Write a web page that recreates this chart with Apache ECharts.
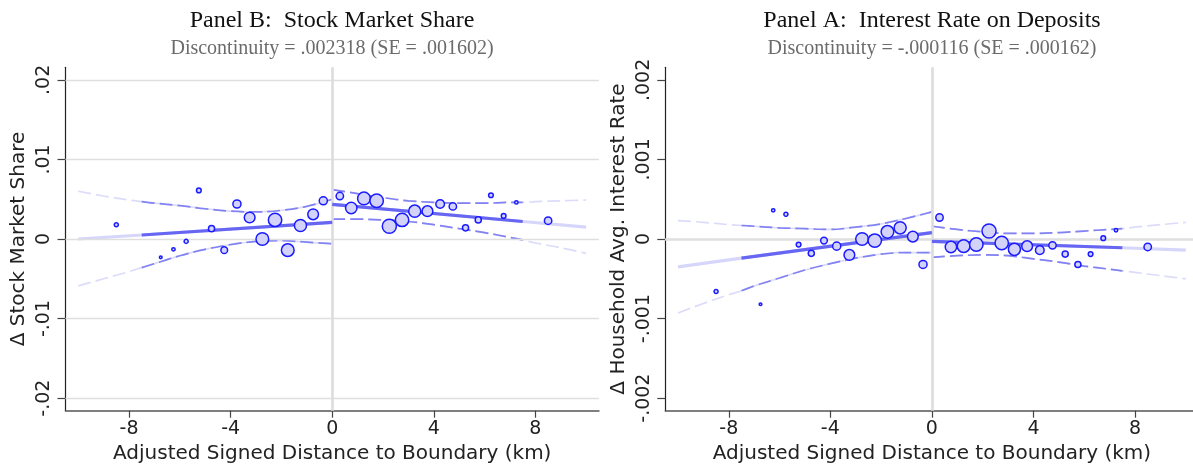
<!DOCTYPE html>
<html>
<head>
<meta charset="utf-8">
<script src="https://cdn.jsdelivr.net/npm/echarts@6/dist/echarts.min.js"></script>
<style>
  html, body { margin: 0; padding: 0; background: #fff; }
  #chart { width: 1193px; height: 464px; }
</style>
</head>
<body>
<div id="chart"></div>
<script>
// ---- Binned data: distance to boundary (km), households per bin ----
const distLeft  = [-8.5, -6.75, -6.25, -5.75, -5.25, -4.75, -4.25, -3.75, -3.25, -2.75, -2.25, -1.75, -1.25, -0.75, -0.35];
const distRight = [0.3, 0.75, 1.25, 1.75, 2.25, 2.75, 3.25, 3.75, 4.25, 4.75, 5.25, 5.75, 6.25, 6.75, 7.25, 8.5];
const weightLeft  = [220, 110, 160, 220, 280, 450, 530, 760, 1280, 1770, 1960, 1770, 1610, 1280, 760];
const weightRight = [640, 1440, 1770, 1960, 2160, 1960, 1610, 1280, 860, 640, 450, 450, 280, 280, 160, 640];

// Panel B: change in stock market share, bin means
const stockLeft  = [0.0018, -0.0023, -0.0013, -0.0003, 0.0061, 0.0013, -0.0014, 0.0044, 0.0027, 0.0000, 0.0024, -0.0014, 0.0017, 0.0031, 0.0048];
const stockRight = [0.0054, 0.0039, 0.0051, 0.0048, 0.0016, 0.0024, 0.0035, 0.0035, 0.0044, 0.0041, 0.0014, 0.0024, 0.0055, 0.0029, 0.0046, 0.0023];

// Panel A: change in household average deposit interest rate, bin means
const rateLeft  = [-0.00066, -0.00082, 0.00036, 0.00031, -0.00007, -0.00018, -0.00002, -0.00009, -0.00020, 0.00000, -0.00002, 0.00009, 0.00014, 0.00003, -0.00032];
const rateRight = [0.00027, -0.00010, -0.00009, -0.00007, 0.00010, -0.00005, -0.00013, -0.00009, -0.00014, -0.00008, -0.00019, -0.00032, -0.00019, 0.00001, 0.00011, -0.00010];

// ---- Local linear fits on each side of the boundary ----
const fitXLeft  = [-10, -7.5, 0];
const fitXRight = [0, 7.5, 10];
const stockFitLeft  = [0.0000, 0.0005, 0.0021];
const stockFitRight = [0.00435, 0.0022, 0.0015];
const rateFitLeft   = [-0.00035, -0.00024, 0.00008];
const rateFitRight  = [-0.00003, -0.00011, -0.00014];

// ---- 95% confidence bands ----
const bandXLeft  = [-10, -9, -8, -7.5, -7, -6, -5, -4, -3, -2, -1, 0];
const bandXRight = [0, 1, 2, 3, 4, 5, 6, 7, 7.5, 8, 9, 10];
const stockUpperLeft  = [0.0060, 0.0054, 0.0049, 0.0047, 0.0045, 0.0042, 0.0038, 0.0035, 0.0034, 0.0036, 0.0041, 0.0050];
const stockLowerLeft  = [-0.0059, -0.0050, -0.0041, -0.0036, -0.0031, -0.0021, -0.0013, -0.0007, -0.0003, -0.0002, -0.0004, -0.0006];
const stockUpperRight = [0.0062, 0.0057, 0.0052, 0.0048, 0.0046, 0.0045, 0.0045, 0.0046, 0.0046, 0.0047, 0.0048, 0.0049];
const stockLowerRight = [0.0025, 0.0025, 0.0024, 0.0022, 0.0018, 0.0013, 0.0008, 0.0002, -0.0001, -0.0005, -0.0011, -0.0018];
const rateUpperLeft  = [0.00023, 0.00021, 0.00018, 0.00017, 0.00016, 0.00014, 0.00013, 0.00012, 0.00015, 0.00019, 0.00026, 0.00034];
const rateLowerLeft  = [-0.00093, -0.00081, -0.00070, -0.00065, -0.00059, -0.00049, -0.00039, -0.00031, -0.00024, -0.00019, -0.00017, -0.00017];
const rateUpperRight = [0.00016, 0.00012, 0.00009, 0.00007, 0.00007, 0.00008, 0.00010, 0.00012, 0.00013, 0.00015, 0.00018, 0.00021];
const rateLowerRight = [-0.00023, -0.00021, -0.00020, -0.00021, -0.00025, -0.00029, -0.00034, -0.00038, -0.00040, -0.00042, -0.00046, -0.00050];

// Range covered by the binned observations (fits drawn solid inside it)
const support = [-7.5, 7.5];

// ---- Axis ticks ----
const xTicks = [-8, -4, 0, 4, 8];
const stockTicks = [-0.02, -0.01, 0, 0.01, 0.02];
const rateTicks = [-0.002, -0.001, 0, 0.001, 0.002];

const chart = echarts.init(document.getElementById('chart'), null, { renderer: 'canvas' });

const SANS = 'DejaVu Sans';
const SERIF = 'Liberation Serif';
const fitDark = '#6666f2', fitLight = '#d6d6fa';
const bandDark = '#8282f2', bandLight = '#dcdcfa';
const gridColor = '#dfdfdf';

const zip = (xs, ys) => xs.map((x, i) => [x, ys[i]]);
const fmtTick = v => v === 0 ? '0' : (v < 0 ? '-' : '') + String(Math.abs(v)).replace(/^0/, '');

function lineSeries(idx, data, color, width, dashed, z) {
  return {
    type: 'line', xAxisIndex: idx, yAxisIndex: idx, data,
    showSymbol: false, symbol: 'none', smooth: dashed ? 0.35 : false,
    silent: true, animation: false, z,
    lineStyle: { color, width, type: dashed ? [13, 5] : 'solid', cap: 'butt' }
  };
}

function panelSeries(idx, yLeft, yRight, fitL, fitR, upL, loL, upR, loR, ticks) {
  const inL = p => p[0] >= support[0];
  const inR = p => p[0] <= support[1];
  const s = [];
  // reference lines: horizontal grid at ticks, vertical line at the boundary
  s.push({
    type: 'line', xAxisIndex: idx, yAxisIndex: idx, data: [], silent: true, z: 1,
    markLine: {
      silent: true, symbol: ['none', 'none'], animation: false, label: { show: false },
      data: ticks.map(t => ({ yAxis: t, lineStyle: { color: gridColor, width: 1.4, type: 'solid' } }))
        .concat([{ xAxis: 0, lineStyle: { color: '#dcdcdc', width: 2.6, type: 'solid' } }])
    }
  });
  const bands = [zip(bandXLeft, upL), zip(bandXLeft, loL), zip(bandXRight, upR), zip(bandXRight, loR)];
  bands.forEach((b, k) => {
    s.push(lineSeries(idx, b, bandLight, 1.7, true, 2));
    s.push(lineSeries(idx, b.filter(k < 2 ? inL : inR), bandDark, 1.7, true, 3));
  });
  const fl = zip(fitXLeft, fitL), fr = zip(fitXRight, fitR);
  s.push(lineSeries(idx, fl, fitLight, 3.2, false, 4));
  s.push(lineSeries(idx, fr, fitLight, 3.2, false, 4));
  s.push(lineSeries(idx, fl.filter(inL), fitDark, 3.2, false, 5));
  s.push(lineSeries(idx, fr.filter(inR), fitDark, 3.2, false, 5));
  const pts = distLeft.map((x, i) => [x, yLeft[i], weightLeft[i]])
    .concat(distRight.map((x, i) => [x, yRight[i], weightRight[i]]));
  s.push({
    type: 'scatter', xAxisIndex: idx, yAxisIndex: idx, data: pts, z: 6,
    silent: true, animation: false,
    symbolSize: v => Math.sqrt(v[2] / 10) - 0.6,
    itemStyle: { color: '#d3d3fa', borderColor: '#1a1aff', borderWidth: 1.5, opacity: 1 }
  });
  return s;
}

function xAxis(idx) {
  return {
    type: 'value', gridIndex: idx, min: -10.5, max: 10.5,
    name: 'Adjusted Signed Distance to Boundary (km)', nameLocation: 'middle', nameGap: 31,
    nameTextStyle: { fontFamily: SANS, fontSize: 20, color: '#222' },
    axisLine: { show: true, onZero: false, lineStyle: { color: '#555', width: 1.6 } },
    axisTick: { show: true, length: 7, customValues: xTicks, lineStyle: { color: '#444', width: 1.2 } },
    axisLabel: { customValues: xTicks, margin: 9, fontFamily: SANS, fontSize: 19, color: '#222',
      formatter: v => String(v) },
    splitLine: { show: false }
  };
}

function yAxis(idx, name, ticks, lim) {
  return {
    type: 'value', gridIndex: idx, min: -lim, max: lim,
    name, nameLocation: 'middle', nameGap: 37, nameRotate: 90,
    nameTextStyle: { fontFamily: SANS, fontSize: 20, color: '#222' },
    axisLine: { show: true, onZero: false, lineStyle: { color: '#222', width: 1.2 } },
    axisTick: { show: true, length: 8, customValues: ticks, lineStyle: { color: '#444', width: 1.2 } },
    axisLabel: { customValues: ticks, rotate: 90, margin: 12, fontFamily: SANS, fontSize: 19, color: '#222',
      formatter: fmtTick },
    splitLine: { show: false }
  };
}

function title(x, text, sub) {
  return {
    text, subtext: sub, left: x, top: 9, textAlign: 'center', padding: 0, itemGap: 6,
    textStyle: { fontFamily: SERIF, fontSize: 24, fontWeight: 'normal', color: '#111' },
    subtextStyle: { fontFamily: SERIF, fontSize: 20, color: '#6b6b6b' }
  };
}

chart.setOption({
  backgroundColor: '#fff',
  animation: false,
  title: [
    title(332, 'Panel B:  Stock Market Share', 'Discontinuity = .002318 (SE = .001602)'),
    title(932, 'Panel A:  Interest Rate on Deposits', 'Discontinuity = -.000116 (SE = .000162)')
  ],
  grid: [
    { left: 65.5, top: 67.3, width: 533.4, height: 343.4, outerBoundsMode: 'none' },
    { left: 665.3, top: 67.3, width: 533.2, height: 343.4, outerBoundsMode: 'none' }
  ],
  xAxis: [xAxis(0), xAxis(1)],
  yAxis: [
    yAxis(0, 'Δ Stock Market Share', stockTicks, 0.02158),
    yAxis(1, 'Δ Household Avg. Interest Rate', rateTicks, 0.002158)
  ],
  series: [].concat(
    panelSeries(0, stockLeft, stockRight, stockFitLeft, stockFitRight,
      stockUpperLeft, stockLowerLeft, stockUpperRight, stockLowerRight, stockTicks),
    panelSeries(1, rateLeft, rateRight, rateFitLeft, rateFitRight,
      rateUpperLeft, rateLowerLeft, rateUpperRight, rateLowerRight, rateTicks)
  )
});
</script>
</body>
</html>
